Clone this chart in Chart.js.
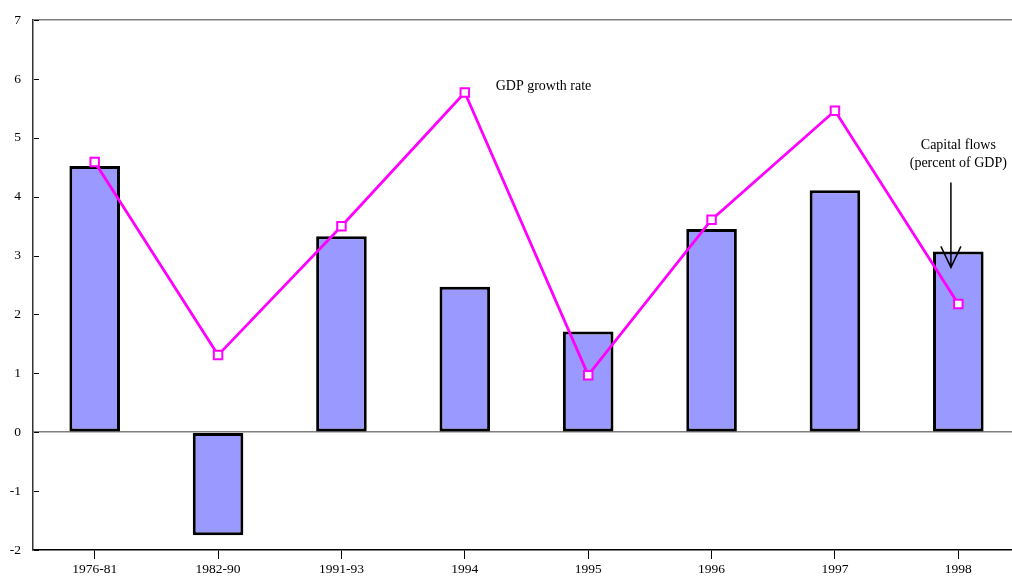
<!DOCTYPE html>
<html>
<head>
<meta charset="utf-8">
<script src="https://cdn.jsdelivr.net/npm/chart.js@4"></script>
<style>
  html, body { margin: 0; padding: 0; background: #fff; overflow: hidden; }
  canvas { display: block; }
</style>
</head>
<body>
<canvas id="chart" width="1028" height="579"></canvas>
<script>
// data
const periods = ['1976-81', '1982-90', '1991-93', '1994', '1995', '1996', '1997', '1998'];
const capitalFlows = [4.52, -1.75, 3.33, 2.47, 1.71, 3.45, 4.11, 3.07];
const gdpGrowth = [4.59, 1.31, 3.50, 5.77, 0.97, 3.61, 5.46, 2.18];
const yTicks = [-2, -1, 0, 1, 2, 3, 4, 5, 6, 7];

const serif = '"Liberation Serif", "DejaVu Serif", serif';

// short ticks on the inside of the y axis + text notes
const extras = {
    id: 'extras',
    afterDatasetsDraw(chart) {
        const ctx = chart.ctx;
        const x = chart.scales.x;
        const y = chart.scales.y;
        ctx.save();
        ctx.strokeStyle = '#000';
        ctx.lineWidth = 1;
        yTicks.forEach(v => {
            const py = Math.round(y.getPixelForValue(v)) + 0.5;
            ctx.beginPath();
            ctx.moveTo(chart.chartArea.left + 1, py);
            ctx.lineTo(chart.chartArea.left + 6, py);
            ctx.stroke();
        });

        ctx.fillStyle = '#000';
        ctx.font = '14px ' + serif;
        ctx.textBaseline = 'middle';
        ctx.textAlign = 'left';
        ctx.fillText('GDP growth rate', x.getPixelForValue(3.25), y.getPixelForValue(5.88));

        ctx.textAlign = 'center';
        const cx = x.getPixelForValue(7);
        ctx.fillText('Capital flows', cx, y.getPixelForValue(4.88));
        ctx.fillText('(percent of GDP)', cx, y.getPixelForValue(4.56));

        // arrow down to the 1998 bar
        const ax = x.getPixelForValue(6.94);
        const y0 = y.getPixelForValue(4.24);
        const y1 = y.getPixelForValue(2.8);
        ctx.lineWidth = 1.5;
        ctx.beginPath();
        ctx.moveTo(ax, y0);
        ctx.lineTo(ax, y1);
        ctx.moveTo(ax - 10, y1 - 21);
        ctx.lineTo(ax, y1);
        ctx.lineTo(ax + 10, y1 - 21);
        ctx.stroke();
        ctx.restore();
    }
};

new Chart(document.getElementById('chart'), {
    type: 'bar',
    data: {
        labels: periods,
        datasets: [{
            type: 'line',
            label: 'GDP growth rate',
            data: gdpGrowth,
            borderColor: '#ff00ff',
            borderWidth: 2.8,
            pointStyle: 'rect',
            pointRadius: 6,
            pointBorderWidth: 2,
            pointBackgroundColor: '#ffffff',
            pointBorderColor: '#ff00ff',
            tension: 0,
            order: 0
        }, {
            label: 'Capital flows (percent of GDP)',
            data: capitalFlows,
            backgroundColor: '#9999ff',
            borderColor: '#000',
            borderWidth: 3,
            borderSkipped: false,
            barPercentage: 0.41,
            categoryPercentage: 1,
            order: 1
        }]
    },
    options: {
        responsive: false,
        animation: false,
        layout: { padding: { top: 17, left: 0, right: 0, bottom: 0 } },
        plugins: {
            legend: { display: false },
            tooltip: { enabled: false }
        },
        scales: {
            x: {
                afterFit: s => { s.height = 29; },
                border: { color: '#000', width: 1.5 },
                grid: {
                    offset: false,
                    drawOnChartArea: false,
                    tickLength: 9,
                    tickColor: '#000',
                    tickWidth: 1
                },
                ticks: {
                    color: '#000',
                    padding: 2,
                    maxRotation: 0,
                    font: { family: serif, size: 13.5 }
                }
            },
            y: {
                min: -2,
                max: 7,
                afterFit: s => { s.width = 33; },
                afterBuildTicks: s => { s.ticks = yTicks.map(v => ({ value: v })); },
                border: { color: '#333', width: 1.5 },
                grid: {
                    drawTicks: false,
                    color: ctx => (ctx.tick && (ctx.tick.value === 0 || ctx.tick.value === 7)) ? '#808080' : 'rgba(0,0,0,0)',
                    lineWidth: 1.5
                },
                ticks: {
                    color: '#000',
                    padding: 12,
                    font: { family: serif, size: 13.5 }
                }
            }
        }
    },
    plugins: [extras]
});
</script>
</body>
</html>
